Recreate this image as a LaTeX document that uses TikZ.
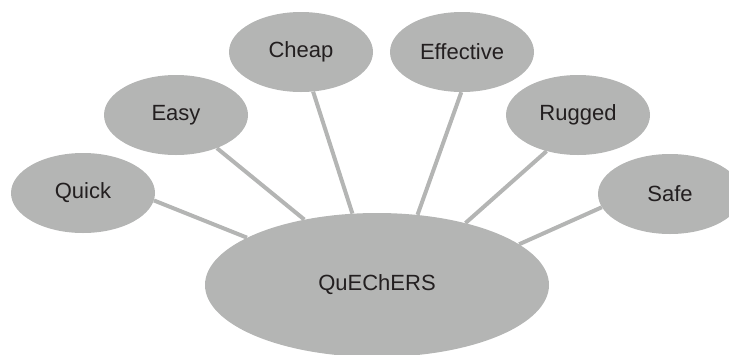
\documentclass[tikz,border=0pt]{standalone}
\usepackage{fontspec}
\setmainfont{Liberation Sans}
\usetikzlibrary{shapes.geometric}
\definecolor{bubble}{HTML}{B4B5B4}
\definecolor{ink}{HTML}{231F20}

\begin{document}
\begin{tikzpicture}[x=1pt,y=-1pt, every node/.style={font=\fontsize{22}{26}\selectfont,text=ink},
 leaf/.style={ellipse,fill=bubble,inner sep=0pt,minimum width=144pt,minimum height=80pt},
 hub/.style={ellipse,fill=bubble,inner sep=0pt,minimum width=344pt,minimum height=144pt},
 link/.style={draw=bubble,line width=4pt}]
\useasboundingbox (0,0) rectangle (729,354);
\node[hub] (main) at (377,285) {QuEChERS};
\node[leaf] (quick) at (83,193) {Quick};
\node[leaf] (easy) at (176,115) {Easy};
\node[leaf] (cheap) at (301,52) {Cheap};
\node[leaf] (effective) at (462,52) {Effective};
\node[leaf] (rugged) at (578,115) {Rugged};
\node[leaf] (safe) at (670,194) {Safe};
\draw[link] (quick.-6)--(main.160);\draw[link] (easy.-39)--(main.138);
\draw[link] (cheap.-73)--(main.109);\draw[link] (effective.-91)--(main.60);
\draw[link] (rugged.-131)--(main.35);\draw[link] (safe.191)--(main.16);
\end{tikzpicture}
\end{document}
